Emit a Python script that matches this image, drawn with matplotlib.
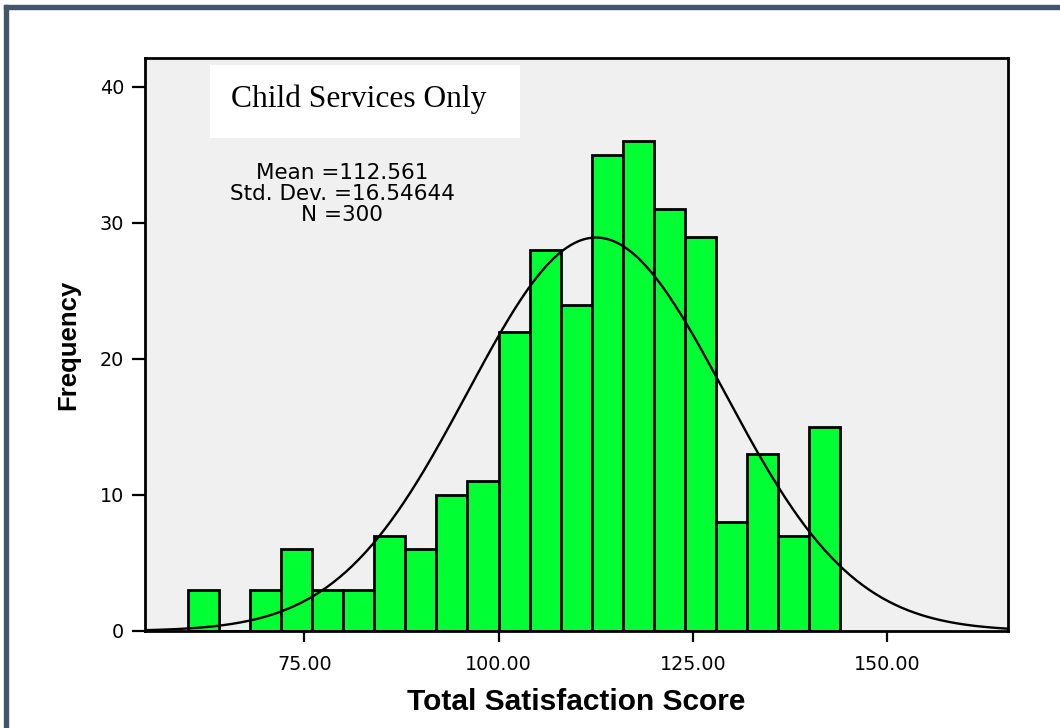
import numpy as np
import matplotlib
matplotlib.use("Agg")
import matplotlib.pyplot as plt
from matplotlib.patches import Rectangle

# histogram of total satisfaction score (child services only)
bin_start = 60.0
bin_width = 4.0
counts = [3, 0, 3, 6, 3, 3, 7, 6, 10, 11, 22, 28, 24, 35, 36, 31, 29, 8, 13, 7, 15]

mean = 112.561
std_dev = 16.54644
n_cases = 300

x_ticks = [75, 100, 125, 150]
x_tick_labels = ["75.00", "100.00", "125.00", "150.00"]
y_ticks = [0, 10, 20, 30, 40]

title_text = "Child Services Only"
stats_lines = ["Mean =112.561", "Std. Dev. =16.54644", "N =300"]

fig = plt.figure(figsize=(10.6, 7.28), dpi=100, facecolor="white")
ax = fig.add_axes([145 / 1060, 97 / 728, 862.7 / 1060, 572.7 / 728])
ax.set_facecolor("#f0f0f0")

edges = bin_start + bin_width * np.arange(len(counts))
ax.bar(edges, counts, width=bin_width, align="edge",
       color="#00ff33", edgecolor="black", linewidth=2.0, zorder=2)

# fitted normal curve scaled to counts
xlo, xhi = 54.49, 165.55
xs = np.linspace(xlo, xhi, 400)
ys = n_cases * bin_width / (std_dev * np.sqrt(2 * np.pi)) * \
    np.exp(-0.5 * ((xs - mean) / std_dev) ** 2)
ax.plot(xs, ys, color="black", linewidth=1.7, zorder=3)

ax.set_xlim(xlo, xhi)
ax.set_ylim(0, 42.11)
ax.set_xticks(x_ticks)
ax.set_xticklabels(x_tick_labels)
ax.set_yticks(y_ticks)
ax.tick_params(axis="x", length=8, width=1.6, pad=9.5, labelsize=13.8,
               direction="out")
ax.tick_params(axis="y", length=9.5, width=1.6, pad=5.5, labelsize=13.8,
               direction="out")
for sp in ax.spines.values():
    sp.set_linewidth(2.0)
    sp.set_zorder(4)

ax.set_xlabel("Total Satisfaction Score", family="Liberation Sans",
              fontweight="bold", fontsize=21.5, va="baseline")
ax.xaxis.set_label_coords(0.5, -0.138)
ax.set_ylabel("Frequency", family="Liberation Sans", fontweight="bold",
              fontsize=18.5, va="center")
ax.yaxis.set_label_coords(-0.0893, 0.5)

# white title box inside the plot
ax.add_patch(Rectangle((0.0753, 0.861), 0.3594, 0.127, transform=ax.transAxes,
                       facecolor="white", edgecolor="none", zorder=5))
ax.text(0.2477, 0.9155, title_text, transform=ax.transAxes,
        family="Liberation Serif", fontsize=22.7, ha="center",
        va="baseline", zorder=6)

for i, line in enumerate(stats_lines):
    ax.text(0.2284, 0.7887 - i * 0.0362, line, transform=ax.transAxes,
            fontsize=15.5, ha="center", va="baseline", zorder=6)

# frame along top and left edges of the picture
fig.patches.append(Rectangle((4 / 1060, 1 - 9 / 728), 1, 4 / 728,
                             transform=fig.transFigure, color="#44556b"))
fig.patches.append(Rectangle((4 / 1060, 0), 4 / 1060, 1 - 5 / 728,
                             transform=fig.transFigure, color="#44556b"))

fig.savefig("out.png", dpi=100, facecolor="white")
